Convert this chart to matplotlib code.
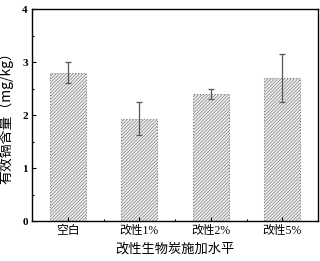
import matplotlib
matplotlib.use('Agg')
import matplotlib.pyplot as plt
import numpy as np

categories = ['空白', '改性1%', '改性2%', '改性5%']
values = [2.80, 1.93, 2.40, 2.70]
errors = [0.20, 0.31, 0.10, 0.46]

plt.rcParams['font.family'] = ['Liberation Serif', 'Noto Sans CJK SC']
plt.rcParams['hatch.linewidth'] = 0.5
plt.rcParams['hatch.color'] = '#808080'

fig = plt.figure(figsize=(3.2, 2.61), dpi=100)
ax = fig.add_axes([0.1, 0.153, 0.894, 0.8125])

x = np.arange(1, len(categories) + 1)
ax.bar(x, values, width=0.5, color='#f0f0f0', edgecolor='#808080',
       hatch='//////////', linewidth=0.8, linestyle=':')
ax.errorbar(x, values, yerr=errors, fmt='none', ecolor='#555555',
            elinewidth=0.9, capsize=2.5, capthick=0.9)

ax.set_xlim(0.5, 4.5)
ax.set_ylim(0, 4)
ax.set_xticks(x)
ax.set_xticklabels(categories, fontsize=8.5,
                   family=['Liberation Serif', 'Noto Sans CJK SC'])
ax.set_xticks(np.arange(1.5, 4.5, 1), minor=True)
ax.set_yticks([0, 1, 2, 3, 4])
ax.set_yticks(np.arange(0.5, 4, 1), minor=True)
for lab in ax.get_yticklabels():
    lab.set_fontweight('bold')
    lab.set_fontsize(8)
ax.tick_params(direction='in', length=3, width=0.8, pad=3)
ax.tick_params(which='minor', direction='in', length=1.5, width=0.8)
for s in ax.spines.values():
    s.set_linewidth(1.0)

ax.set_xlabel('改性生物炭施加水平', fontsize=9.5,
              family=['Noto Sans CJK SC'], labelpad=4)
ax.set_ylabel('有效镉含量（mg/kg）', fontsize=10,
              family=['Noto Sans CJK SC', 'Liberation Serif'], labelpad=6)

plt.savefig('out.png', dpi=100)
